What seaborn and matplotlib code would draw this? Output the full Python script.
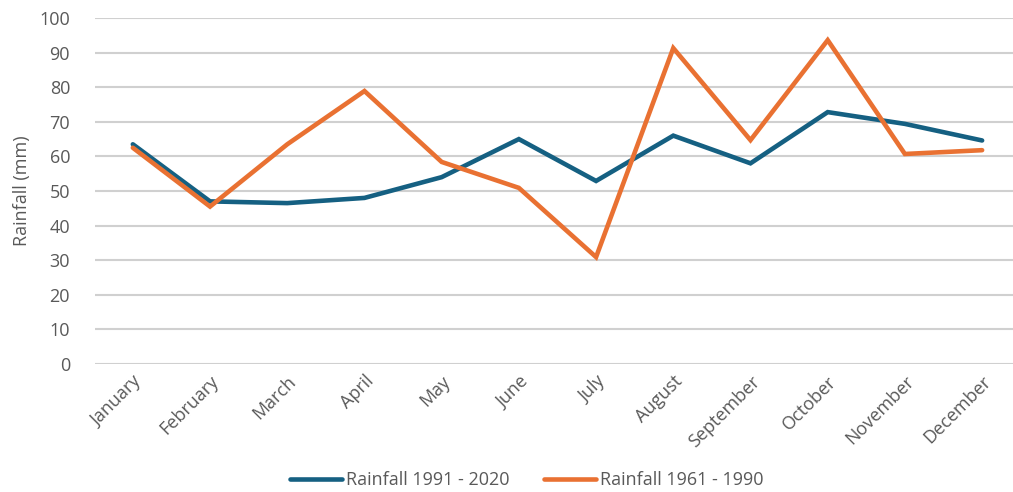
import pandas as pd
import seaborn as sns
import matplotlib.pyplot as plt

months = ['January', 'February', 'March', 'April', 'May', 'June', 'July',
          'August', 'September', 'October', 'November', 'December']
rain_1991_2020 = [63.5, 47.0, 46.5, 48.0, 54.0, 65.0, 52.9, 66.0, 58.0, 72.8, 69.4, 64.6]
rain_1961_1990 = [62.5, 45.5, 63.5, 78.9, 58.4, 50.9, 30.9, 91.3, 64.7, 93.6, 60.7, 61.8]
series_names = ['Rainfall 1991 - 2020', 'Rainfall 1961 - 1990']

df = pd.DataFrame({
    'month': months * 2,
    'rain': rain_1991_2020 + rain_1961_1990,
    'series': [series_names[0]] * 12 + [series_names[1]] * 12,
})

sns.set_style('white')
plt.rcParams['font.family'] = ['Open Sans', 'DejaVu Sans']
text_col = '#595959'

fig = plt.figure(figsize=(10.13, 4.92), dpi=100)
ax = fig.add_axes([95 / 1013, 1 - 364 / 492, 1 - 95 / 1013, 346 / 492])

sns.lineplot(data=df, x='month', y='rain', hue='series', sort=False,
             palette=['#156082', '#E97132'], linewidth=3.3, ax=ax,
             solid_capstyle='round', solid_joinstyle='miter')

ax.set_ylim(0, 100)
ax.set_xlim(-0.49, 11.4)
ax.set_yticks(range(0, 101, 10))
ax.grid(axis='y', color='#d0d0d0', linewidth=1.5)
ax.set_axisbelow(True)
for s in ax.spines.values():
    s.set_visible(False)
ax.tick_params(axis='both', length=0, labelsize=13, colors=text_col)
ax.tick_params(axis='y', pad=18)
ax.tick_params(axis='x', pad=6)
ax.set_xlabel('')
ax.set_ylabel('Rainfall (mm)', fontsize=13, color=text_col, labelpad=6)
plt.setp(ax.get_xticklabels(), rotation=45, ha='right', rotation_mode='anchor')

handles, labels = ax.get_legend_handles_labels()
ax.get_legend().remove()
fig.legend(handles, labels, loc='center', bbox_to_anchor=(0.52, 1 - 480 / 492),
           ncol=2, frameon=False, fontsize=13, labelcolor=text_col,
           handlelength=2.9, handletextpad=0.2, columnspacing=1.9)

fig.savefig('out.png', dpi=100)
